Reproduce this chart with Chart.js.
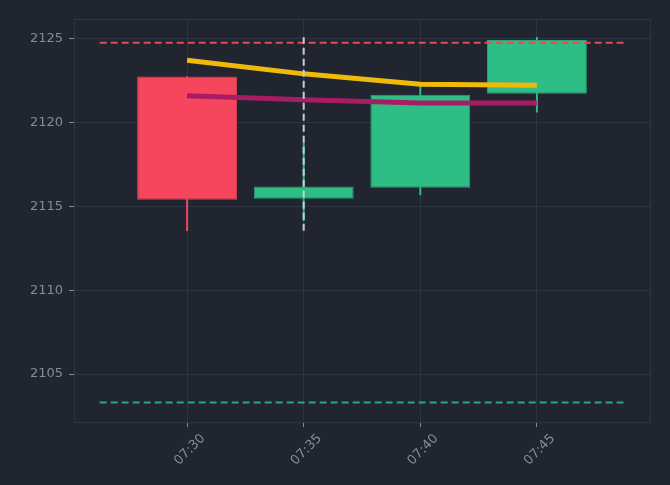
<!DOCTYPE html>
<html>
<head>
<meta charset="utf-8">
<script src="https://cdn.jsdelivr.net/npm/chart.js@4/dist/chart.umd.min.js"></script>
<style>
  html, body { margin: 0; padding: 0; background: #20252f; }
  #wrap { width: 670px; height: 485px; }
</style>
</head>
<body>
<div id="wrap"><canvas id="c" width="670" height="485"></canvas></div>
<script>
// ---- data ----
const times = ['07:30', '07:35', '07:40', '07:45'];
const openP  = [2122.73, 2115.45, 2116.10, 2121.70];
const closeP = [2115.39, 2116.18, 2121.64, 2124.91];
const highP  = [2122.73, 2118.78, 2122.17, 2125.07];
const lowP   = [2113.54, 2114.14, 2115.67, 2120.61];
const maFast = [2123.70, 2122.89, 2122.27, 2122.21];
const maSlow = [2121.58, 2121.34, 2121.16, 2121.15];
const resistanceLevel = 2124.75;
const supportLevel = 2103.30;
const levelSpan = ['07:26:15', '07:48:43'];
const crosshairTime = '07:35';
const xTickLabels = ['07:30', '07:35', '07:40', '07:45'];
const yTickValues = [2105, 2110, 2115, 2120, 2125];
const xRange = ['07:25:09', '07:49:51'];
const yRange = [2102.14, 2126.16];

// ---- helpers ----
function toMin(t) {
  const p = t.split(':').map(Number);
  return p[0] * 60 + p[1] + (p[2] || 0) / 60;
}
function fmt(m) {
  const h = Math.floor(m / 60), mm = Math.round(m - h * 60);
  return String(h).padStart(2, '0') + ':' + String(mm).padStart(2, '0');
}

const RED = '#f6465d', GREEN = '#2ebd85';
const up = times.map((t, i) => closeP[i] >= openP[i]);
const bodyColors = up.map(u => u ? GREEN : RED);
const bodyBorders = up.map(u => u ? '#27a574' : '#d93d52');

const bodies = times.map((t, i) => ({ x: toMin(t), y: [openP[i], closeP[i]] }));
const wicks = times.map((t, i) => ({ x: toMin(t), y: [lowP[i], highP[i]] }));
const fastPts = times.map((t, i) => ({ x: toMin(t), y: maFast[i] }));
const slowPts = times.map((t, i) => ({ x: toMin(t), y: maSlow[i] }));
const resPts = levelSpan.map(t => ({ x: toMin(t), y: resistanceLevel }));
const supPts = levelSpan.map(t => ({ x: toMin(t), y: supportLevel }));
const crossPts = [
  { x: toMin(crosshairTime), y: Math.min(...lowP) },
  { x: toMin(crosshairTime), y: Math.max(...highP) }
];

const GRID = '#2e3441';
const TICKC = '#868b97';

const frame = {
  id: 'frame',
  beforeDatasetsDraw(chart) {
    const a = chart.chartArea, ctx = chart.ctx;
    ctx.save();
    ctx.strokeStyle = GRID;
    ctx.lineWidth = 1;
    ctx.strokeRect(Math.round(a.left) + 0.5, Math.round(a.top) + 0.5,
                   Math.round(a.right - a.left), Math.round(a.bottom - a.top));
    ctx.restore();
  }
};

const lineBase = { type: 'line', pointRadius: 0, fill: false, tension: 0, order: 0 };

new Chart(document.getElementById('c'), {
  type: 'bar',
  data: {
    datasets: [
      { ...lineBase, data: crossPts, borderColor: '#c9ccd2', borderWidth: 2, borderDash: [7, 4] },
      { ...lineBase, data: resPts, borderColor: '#e8475c', borderWidth: 2, borderDash: [7, 4] },
      { ...lineBase, data: supPts, borderColor: '#27a97a', borderWidth: 2, borderDash: [7, 4] },
      { ...lineBase, data: fastPts, borderColor: '#f0b90b', borderWidth: 5 },
      { ...lineBase, data: slowPts, borderColor: '#a81c64', borderWidth: 5 },
      { type: 'bar', data: bodies, backgroundColor: bodyColors, borderColor: bodyBorders,
        borderWidth: 1, borderSkipped: false, grouped: false, order: 1,
        categoryPercentage: 1, barPercentage: 0.857 },
      { type: 'bar', data: wicks, backgroundColor: bodyColors, borderWidth: 0,
        grouped: false, order: 2, barThickness: 1.3 }
    ]
  },
  options: {
    responsive: false,
    animation: false,
    events: [],
    layout: { padding: { top: 19, right: 20, left: 0, bottom: 0 } },
    plugins: { legend: { display: false }, tooltip: { enabled: false } },
    scales: {
      x: {
        type: 'linear',
        offset: false,
        min: toMin(xRange[0]),
        max: toMin(xRange[1]),
        afterBuildTicks: s => { s.ticks = xTickLabels.map(t => ({ value: toMin(t) })); },
        afterFit: s => { s.height = 63; },
        grid: { color: GRID, tickColor: TICKC, tickLength: 5, drawTicks: true, offset: false },
        border: { color: GRID },
        ticks: {
          color: TICKC, font: { family: 'DejaVu Sans', size: 13 },
          maxRotation: 45, minRotation: 45, labelOffset: 16, padding: 4,
          callback: v => fmt(v)
        }
      },
      y: {
        min: yRange[0],
        max: yRange[1],
        afterBuildTicks: s => { s.ticks = yTickValues.map(v => ({ value: v })); },
        afterFit: s => { s.width = 74; },
        grid: { color: GRID, tickColor: TICKC, tickLength: 5 },
        border: { color: GRID },
        ticks: { color: TICKC, font: { family: 'DejaVu Sans', size: 13 }, padding: 6,
                 callback: v => String(v) }
      }
    }
  },
  plugins: [frame]
});
</script>
</body>
</html>
